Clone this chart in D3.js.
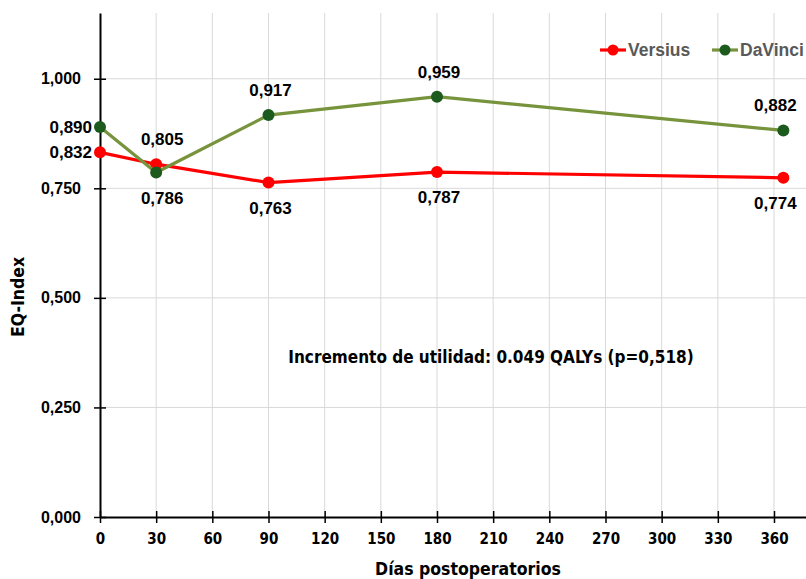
<!DOCTYPE html>
<html>
<head>
<meta charset="utf-8">
<script src="https://d3js.org/d3.v7.min.js"></script>
<style>
  body { margin: 0; background: #fff; }
  svg { display: block; }
  .narrow { font-family: 'DejaVu Sans Condensed', 'DejaVu Sans', sans-serif; font-weight: bold; }
</style>
</head>
<body>
<div id="chart"></div>
<script>
// days after surgery and EQ-Index per robot
var days = [0, 30, 90, 180, 365];
var versius = [0.832, 0.805, 0.763, 0.787, 0.774];
var davinci = [0.890, 0.786, 0.917, 0.959, 0.882];
var xTicks = [0, 30, 60, 90, 120, 150, 180, 210, 240, 270, 300, 330, 360];
var yTicks = [0, 0.25, 0.5, 0.75, 1.0];
var seriesNames = ["Versius", "DaVinci"];
// where each value label goes relative to its point
var versiusPos = ["left", "above", "below", "below", "below"];
var davinciPos = ["left", "below", "above", "above", "above"];
var note = "Incremento de utilidad: 0.049 QALYs (p=0,518)";

var W = 806, H = 579;
var svg = d3.select("#chart").append("svg").attr("width", W).attr("height", H);

var x = d3.scaleLinear().domain([0, 380]).range([100, 100 + 380 * 1.8722]);
var y = d3.scaleLinear().domain([0, 1.15]).range([517, 13]);

var fmt = function(v) { return d3.format(".3f")(v).replace(".", ","); };

// grid
svg.append("g").selectAll("line").data(xTicks.slice(1)).enter().append("line")
  .attr("x1", d => x(d)).attr("x2", d => x(d))
  .attr("y1", y(1.15)).attr("y2", y(0))
  .attr("stroke", "#d9d9d9").attr("stroke-width", 1);
svg.append("g").selectAll("line").data(yTicks.slice(1)).enter().append("line")
  .attr("x1", x(0)).attr("x2", W)
  .attr("y1", d => y(d)).attr("y2", d => y(d))
  .attr("stroke", "#d9d9d9").attr("stroke-width", 1);

// axes
var yAxis = svg.append("g").attr("transform", "translate(" + x(0) + ",0)")
  .call(d3.axisLeft(y).tickValues(yTicks).tickSizeInner(5).tickSizeOuter(0).tickFormat(fmt));
yAxis.select(".domain").attr("stroke", "#000").attr("stroke-width", 2);
yAxis.selectAll(".tick line").attr("x1", -6).attr("x2", 6).attr("stroke", "#000").attr("stroke-width", 1.5);
yAxis.selectAll(".tick text").attr("x", -19)
  .style("font-family", "'Liberation Sans', Arial, sans-serif")
  .style("font-weight", "bold").style("font-size", "16px").attr("fill", "#000");

var xAxis = svg.append("g").attr("transform", "translate(0," + y(0) + ")")
  .call(d3.axisBottom(x).tickValues(xTicks).tickSizeInner(6).tickSizeOuter(0).tickFormat(d3.format("d")));
xAxis.select(".domain").attr("stroke", "#000").attr("stroke-width", 2);
xAxis.selectAll(".tick line").attr("y1", -6).attr("y2", 6).attr("stroke", "#000").attr("stroke-width", 1.5);
xAxis.selectAll(".tick text").attr("y", 16).attr("class", "narrow")
  .style("font-size", "15px").attr("fill", "#000");

// axis titles
svg.append("text").attr("class", "narrow").attr("x", 468).attr("y", 575).attr("text-anchor", "middle")
  .style("font-size", "17.5px").text("Días postoperatorios");
svg.append("text").attr("class", "narrow").attr("transform", "translate(24,297) rotate(-90)").attr("text-anchor", "middle")
  .style("font-size", "17.5px").text("EQ-Index");

// series
var series = [
  { name: seriesNames[0], values: versius, pos: versiusPos, line: "#ff0000", dot: "#ff0000" },
  { name: seriesNames[1], values: davinci, pos: davinciPos, line: "#77933c", dot: "#1d5a1d" }
];
var lineGen = d3.line().x((d, i) => x(days[i])).y(d => y(d));

series.forEach(function(s) {
  svg.append("path").datum(s.values).attr("d", lineGen)
    .attr("fill", "none").attr("stroke", s.line).attr("stroke-width", 3.2);
  svg.append("g").selectAll("circle").data(s.values).enter().append("circle")
    .attr("cx", (d, i) => x(days[i])).attr("cy", d => y(d)).attr("r", 6)
    .attr("fill", s.dot);
  svg.append("g").selectAll("text").data(s.values).enter().append("text")
    .attr("x", function(d, i) {
      if (s.pos[i] == "left") return x(days[i]) - 8;
      if (i == 4) return x(days[i]) - 8;
      return x(days[i]) + (i == 1 ? 6 : 2);
    })
    .attr("y", function(d, i) {
      if (s.pos[i] == "above") return y(d) - 19;
      if (s.pos[i] == "below") return y(d) + 31;
      return y(d) + 6;
    })
    .attr("text-anchor", (d, i) => s.pos[i] == "left" ? "end" : "middle")
    .style("font-family", "'Liberation Sans', Arial, sans-serif")
    .style("font-weight", "bold").style("font-size", "17px").attr("fill", "#000")
    .text(fmt);
});

// note
svg.append("text").attr("class", "narrow").attr("x", 491).attr("y", 363).attr("text-anchor", "middle")
  .style("font-size", "17px").text(note);

// legend
var legX = [600, 712];
series.forEach(function(s, i) {
  var g = svg.append("g").attr("transform", "translate(" + legX[i] + ",50)");
  g.append("line").attr("x1", 0).attr("x2", 26).attr("stroke", s.line).attr("stroke-width", 3.2);
  g.append("circle").attr("cx", 13).attr("r", 5.5).attr("fill", s.dot);
  g.append("text").attr("x", 28).attr("y", 6)
    .style("font-family", "'Liberation Sans', Arial, sans-serif")
    .style("font-weight", "bold").style("font-size", "17.5px").attr("fill", "#595959")
    .text(s.name);
});
</script>
</body>
</html>
